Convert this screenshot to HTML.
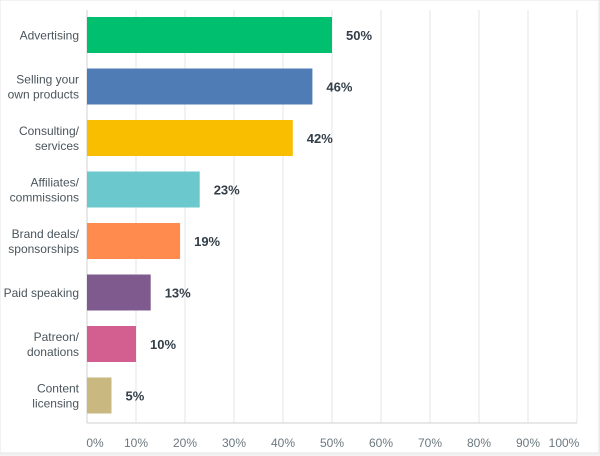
<!DOCTYPE html>
<html><head><meta charset="utf-8"><style>
body{margin:0;background:#f2f2f2;}
svg{display:block;font-family:"Liberation Sans",sans-serif;}
</style></head><body>
<svg width="600" height="456">
<rect x="0" y="0" width="599" height="453" fill="#fff" stroke="#e4e4e4"/>
<g id="grid"></g><g id="bars"></g><g id="labels"></g>
</svg>
<script>
const categories=[["Advertising"],["Selling your","own products"],["Consulting/","services"],["Affiliates/","commissions"],["Brand deals/","sponsorships"],["Paid speaking"],["Patreon/","donations"],["Content","licensing"]];
const values=[50,46,42,23,19,13,10,5];
const colors=["#00bf6f","#507cb6","#f9be00","#6bc8cd","#ff8b4f","#7f5a8f","#d25f90","#c9b880"];
const ticks=[0,10,20,30,40,50,60,70,80,90,100];
const ns="http://www.w3.org/2000/svg";
const x0=87,x1=577,plotTop=10,axisY=423,barTop=17,pitch=51.5,bh=36;
const xs=v=>x0+(x1-x0)*v/100;
function mk(t,a,p){const e=document.createElementNS(ns,t);for(const k in a)e.setAttribute(k,a[k]);p.appendChild(e);return e;}
const g=document.getElementById('grid'),b=document.getElementById('bars'),l=document.getElementById('labels');
ticks.forEach(t=>{
 const ln=mk('line',{x1:xs(t),x2:xs(t),y1:plotTop,y2:axisY,stroke:t===0?'#d0d0d0':'#e6e6e6','stroke-width':1},g);
 
 
 const tx=mk('text',{x:xs(t)+(t===0?8:t===100?-13:0),y:447,'text-anchor':'middle','font-size':12,fill:'#6b787f'},l);
 tx.textContent=t+'%';
 
 
});
const ax=mk('line',{x1:x0,x2:x1,y1:axisY,y2:axisY,stroke:'#d0d0d0'},g);


values.forEach((v,i)=>{
 const y=barTop+i*pitch;
 const r=mk('rect',{x:x0,y:y,width:xs(v)-x0,height:bh,fill:colors[i]},b);
 
 
 const vt=mk('text',{x:xs(v)+14,y:y+bh/2+5,'font-size':13,'font-weight':'bold',fill:'#333e48'},l);
 vt.textContent=v+'%';
 
 
 const lines=categories[i];
 lines.forEach((s,j)=>{
  const c=mk('text',{x:79,y:y+bh/2+4.5+(j-(lines.length-1)/2)*15,'text-anchor':'end','font-size':12,fill:'#4a555c'},l);
  c.textContent=s;
  
  
 });
});
</script>
</body></html>
